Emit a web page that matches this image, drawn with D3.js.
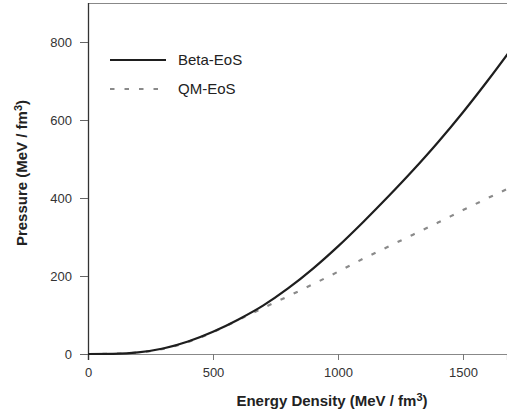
<!DOCTYPE html>
<html>
<head>
<meta charset="utf-8">
<script src="https://cdn.jsdelivr.net/npm/d3@7"></script>
<style>
  body { margin: 0; background: #fff; }
  svg { display: block; font-family: "Liberation Sans", Arial, sans-serif; }
</style>
</head>
<body>
<div id="chart"></div>
<script>
// data
const energy = [0, 100, 200, 300, 400, 500, 600, 700, 800, 900, 1000, 1100, 1200, 1300, 1400, 1500, 1600, 1700];
const betaP  = [0, 0.5, 4, 14, 32, 57, 88, 124, 168, 219, 276, 338, 403, 471, 543, 620, 702, 788];
const qmP    = [0, 0.5, 4, 13, 31, 56, 87, 118, 148, 179, 211, 244, 275, 306, 337, 369, 400, 430];
const xTicks = [0, 500, 1000, 1500];
const yTicks = [0, 200, 400, 600, 800];
const seriesNames = ["Beta-EoS", "QM-EoS"];

const W = 507, H = 419;
const margin = {top: 3, left: 88, bottom: 65};

const svg = d3.select("#chart")
  .append("svg")
    .attr("width", W)
    .attr("height", H);

const x = d3.scaleLinear()
    .domain([0, 1676])
    .range([margin.left, W]);

const y = d3.scaleLinear()
    .domain([0, 800])
    .range([354, 42]);

// top frame line
svg.append("line")
    .attr("x1", margin.left).attr("x2", W)
    .attr("y1", margin.top + 0.5).attr("y2", margin.top + 0.5)
    .attr("stroke", "#888").attr("stroke-width", 1.2);

// x axis
const xAxis = svg.append("g")
    .attr("transform", `translate(0, ${y(0)})`)
    .call(d3.axisBottom(x).tickValues(xTicks).tickSize(6).tickPadding(8).tickFormat(d3.format("d")));
xAxis.select(".domain").attr("stroke", "#888").attr("stroke-width", 1.2);
xAxis.selectAll(".tick line").attr("stroke", "#777");
xAxis.selectAll("text").attr("font-size", 13).attr("fill", "#333")
    .attr("font-family", "Liberation Sans, Arial, sans-serif");

// y axis
const yAxis = svg.append("g")
    .attr("transform", `translate(${margin.left}, 0)`)
    .call(d3.axisLeft(y).tickValues(yTicks).tickSize(8).tickPadding(8).tickFormat(d3.format("d")));
yAxis.select(".domain").attr("d", `M0.5,${margin.top}V${y(0) + 6}`).attr("stroke", "#333").attr("stroke-width", 1.3);
yAxis.selectAll(".tick line").attr("stroke", "#666");
yAxis.selectAll("text").attr("font-size", 13).attr("fill", "#333")
    .attr("font-family", "Liberation Sans, Arial, sans-serif");

// curves
const line = d3.line()
    .x((d, i) => x(energy[i]))
    .y(d => y(d))
    .curve(d3.curveMonotoneX);

svg.append("path")
    .datum(qmP)
    .attr("fill", "none")
    .attr("stroke", "#8a8a8a")
    .attr("stroke-width", 2.2)
    .attr("stroke-dasharray", "4.5,10")
    .attr("d", line);

svg.append("path")
    .datum(betaP)
    .attr("fill", "none")
    .attr("stroke", "#1e1e1e")
    .attr("stroke-width", 2.2)
    .attr("d", line);

// legend
const legend = svg.append("g");
legend.append("line")
    .attr("x1", 110).attr("x2", 166).attr("y1", 60).attr("y2", 60)
    .attr("stroke", "#1e1e1e").attr("stroke-width", 2.2);
legend.append("line")
    .attr("x1", 110).attr("x2", 162).attr("y1", 89).attr("y2", 89)
    .attr("stroke", "#8a8a8a").attr("stroke-width", 2.2)
    .attr("stroke-dasharray", "4.5,10");
legend.selectAll("text.lab")
  .data(seriesNames)
  .join("text")
    .attr("class", "lab")
    .attr("x", 178)
    .attr("y", (d, i) => 65 + i * 29)
    .attr("font-size", 15)
    .attr("fill", "#222")
    .text(d => d);

// axis titles
const xt = svg.append("text")
    .attr("text-anchor", "middle")
    .attr("x", 332)
    .attr("y", 406)
    .attr("font-size", 15)
    .attr("font-weight", "bold")
    .attr("fill", "#222")
    .text("Energy Density (MeV / fm");
xt.append("tspan").attr("dy", -5).attr("font-size", 11).text("3");
xt.append("tspan").attr("dy", 5).text(")");

const yt = svg.append("text")
    .attr("text-anchor", "middle")
    .attr("transform", "translate(27, 173) rotate(-90)")
    .attr("font-size", 15)
    .attr("font-weight", "bold")
    .attr("fill", "#222")
    .text("Pressure (MeV / fm");
yt.append("tspan").attr("dy", -5).attr("font-size", 11).text("3");
yt.append("tspan").attr("dy", 5).text(")");
</script>
</body>
</html>
